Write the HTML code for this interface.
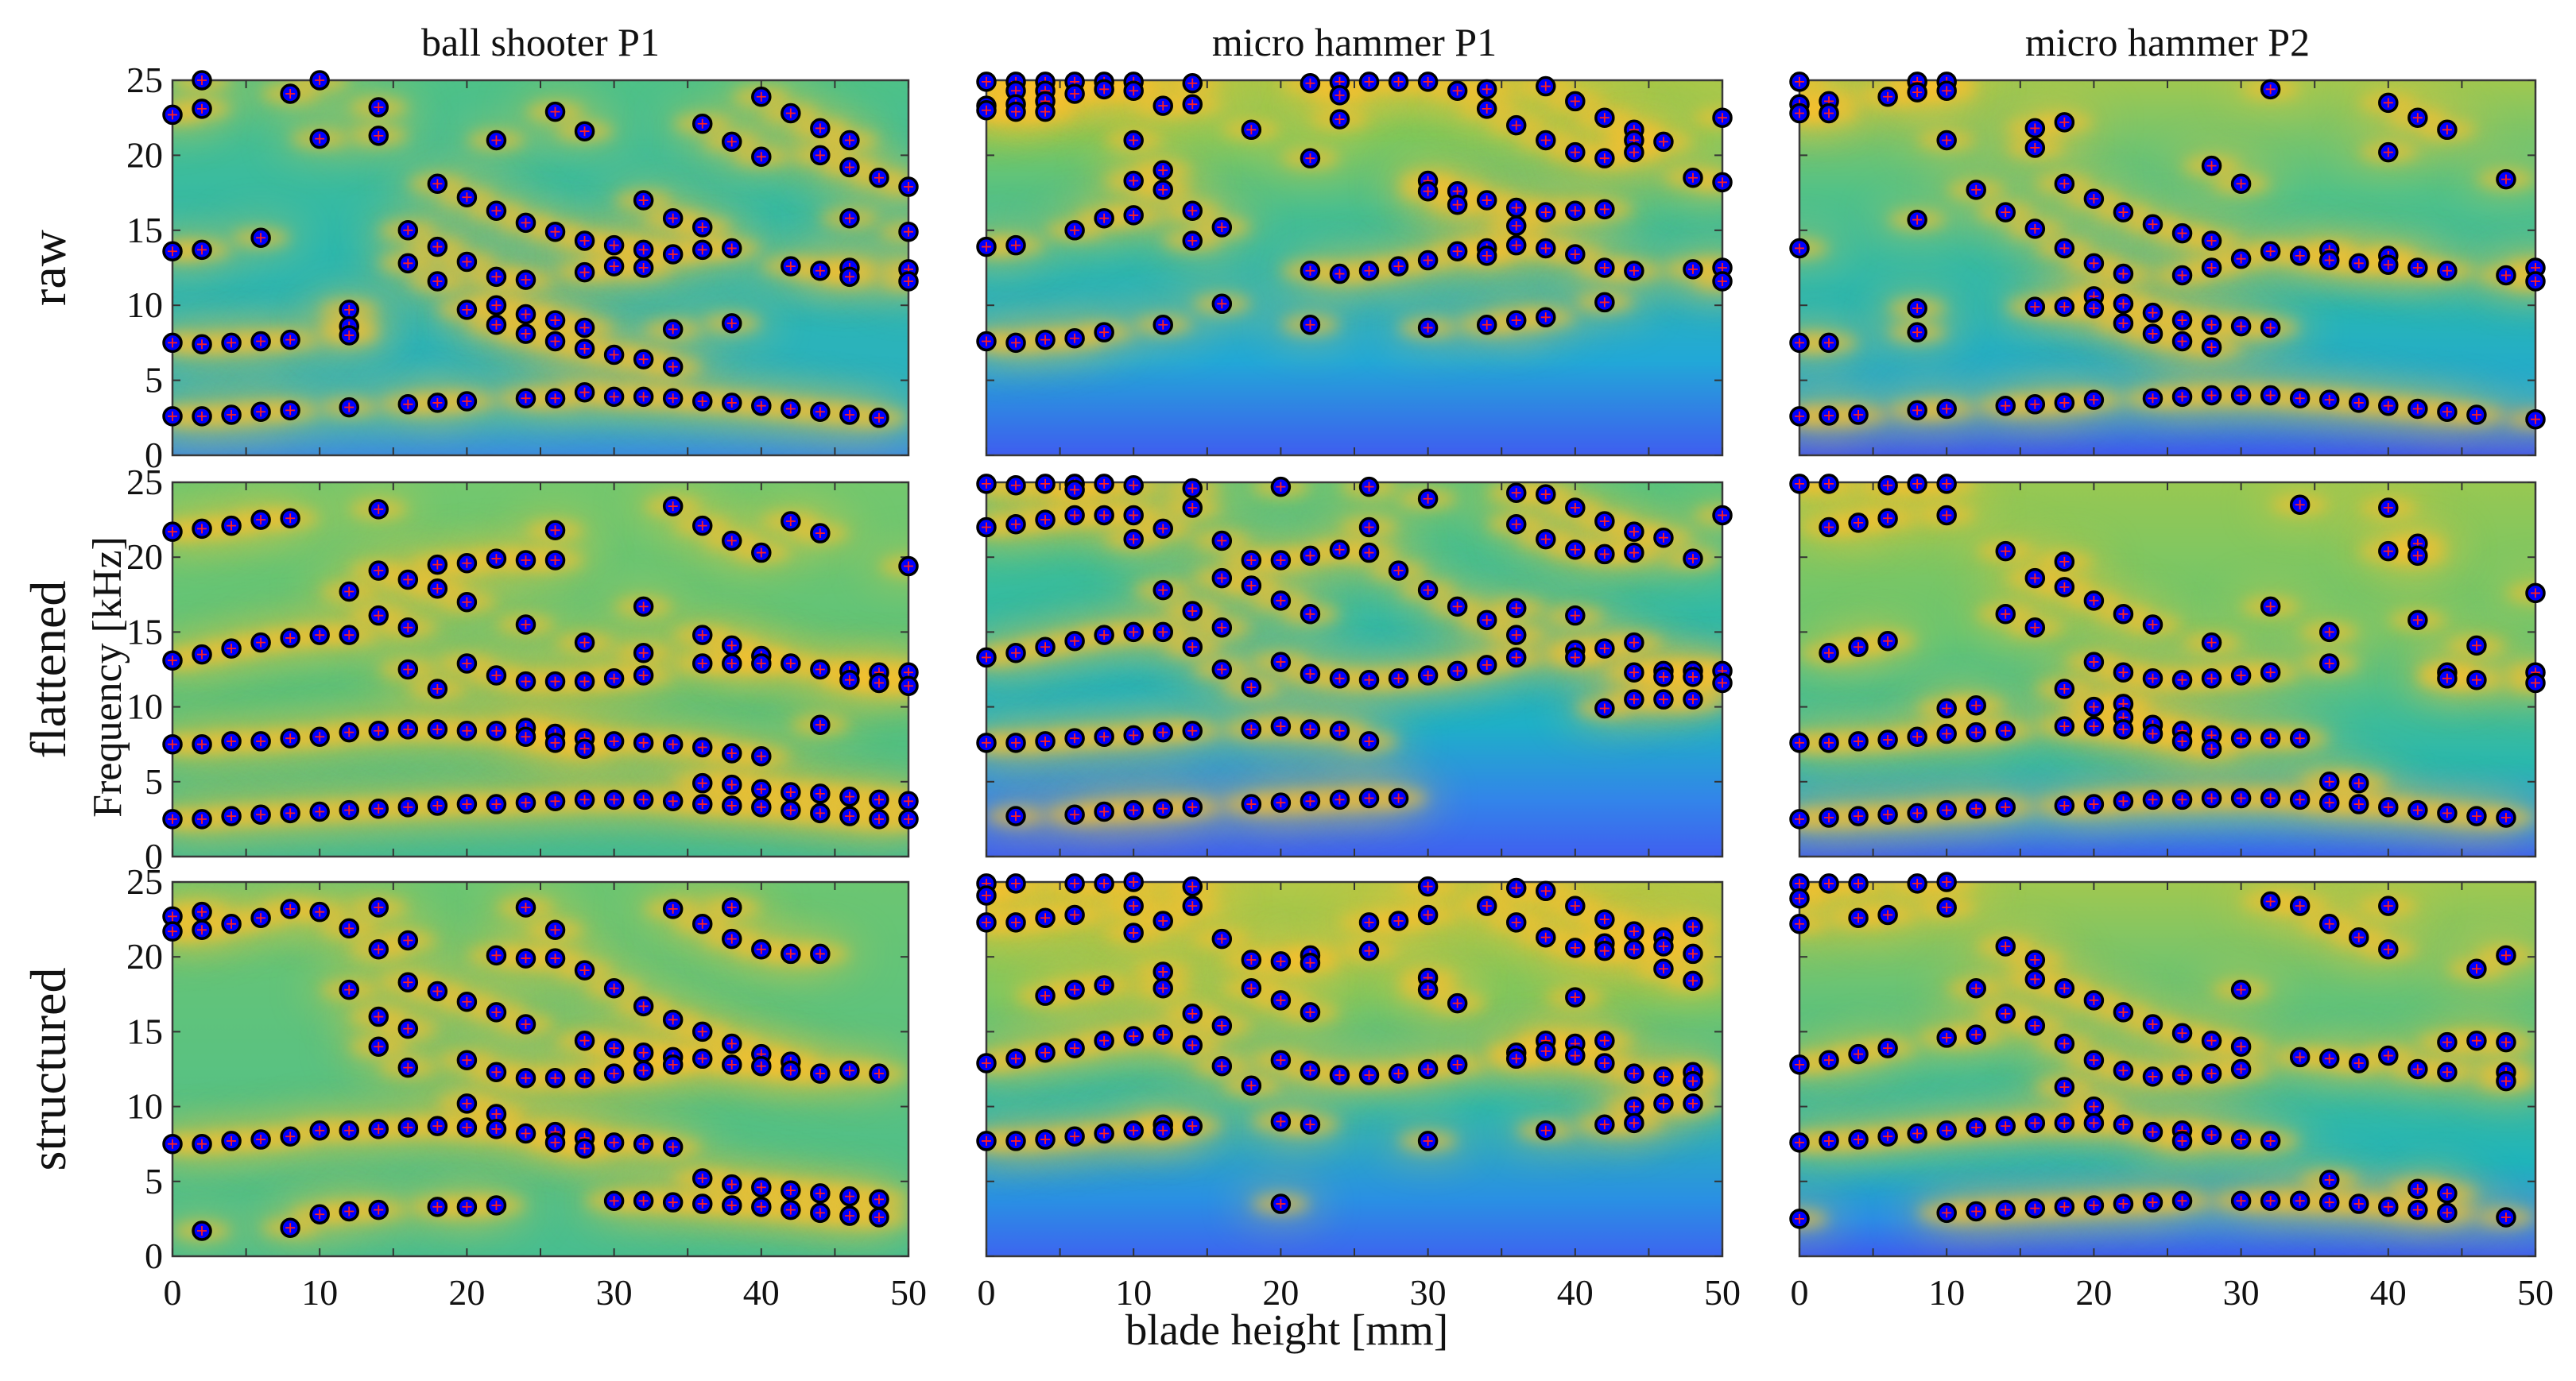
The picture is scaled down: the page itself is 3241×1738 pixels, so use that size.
<!DOCTYPE html>
<html><head><meta charset="utf-8">
<style>
html,body{margin:0;padding:0;background:#fff;}
#wrap{position:relative;width:3241px;height:1738px;overflow:hidden;background:#fff;}
canvas{position:absolute;}
svg{position:absolute;left:0;top:0;}
text{font-family:"Liberation Serif",serif;fill:#111;}
</style></head>
<body>
<div id="wrap">
<svg id="svg" width="3241" height="1738"></svg>
</div>
<script>
const heights=[0,2,4,6,8,10,12,14,16,18,20,22,24,26,28,30,32,34,36,38,40,42,44,46,48,50];
const panelTitles=['ball shooter P1','micro hammer P1','micro hammer P2'];
const rowLabels=['raw','flattened','structured'];
const yTickLabels=[0,5,10,15,20,25];
const xTickLabels=[0,10,20,30,40,50];

const rawBS=[[22.7,13.6,7.5,2.6],[25.0,23.1,13.7,7.4,2.6],[7.5,2.7],[14.5,7.6,2.9],[24.1,7.7,3.0],[25.0,21.1],[9.7,8.6,8.0,3.2],[23.2,21.3],[15.0,12.8,3.4],[18.1,13.9,11.6,3.5],[17.2,12.9,9.7,3.6],[21.0,16.3,11.9,10.0,8.7],[15.5,11.7,9.4,8.1,3.8],[22.9,14.9,9.0,7.6,3.8],[21.6,14.3,12.2,8.5,7.1,4.2],[14.0,12.6,6.7,3.9],[17.0,13.7,12.5,6.4,3.9],[15.8,13.4,8.4,5.9,3.8],[22.1,15.2,13.7,3.6],[20.9,13.8,8.8,3.5],[23.9,19.9,3.3],[22.8,12.6,3.1],[21.8,20.0,12.3,2.9],[21.0,19.2,15.8,12.5,11.9,2.7],[18.5,2.5],[17.9,14.9,12.4,11.6]];
const rawMH1=[[24.9,23.3,23.0,13.9,7.6],[24.9,24.3,23.4,22.9,14.0,7.5],[24.9,24.3,23.6,22.9,7.7],[24.9,24.1,15.0,7.8],[24.9,24.4,15.8,8.2],[24.9,24.3,21.0,18.3,16.0],[23.3,19.0,17.7,8.7],[24.8,23.4,16.3,14.3],[15.2,10.1],[21.7],[],[24.8,19.8,12.3,8.7],[24.9,24.0,22.4,12.1],[24.9,12.3],[24.9,12.6],[24.9,18.3,17.6,13.0,8.5],[24.3,17.6,16.7,13.6],[24.4,23.1,17.0,13.8,13.3,8.7],[22.0,16.5,15.3,14.0,9.0],[24.6,21.0,16.2,13.8,9.2],[23.6,20.2,16.3,13.4],[22.5,19.8,16.4,12.5,10.2],[21.7,21.0,20.2,12.3],[20.9],[18.5,12.4],[22.5,18.2,12.5,11.6]];
const rawMH2=[[24.9,23.4,22.8,13.8,7.5,2.6],[23.6,22.8,7.5,2.65],[2.7],[23.9],[24.9,24.2,15.7,9.8,8.2,3.0],[24.9,24.3,21.0,3.1],[17.7],[16.2,3.3],[21.8,20.5,15.1,9.9,3.4],[22.2,18.1,13.8,9.9,3.5],[17.1,12.8,10.6,9.8,3.7],[16.2,12.1,10.1,8.8],[15.4,9.5,8.1,3.8],[14.8,12.0,9.0,7.6,3.9],[19.3,14.3,12.5,8.7,7.2,4.0],[18.1,13.1,8.6,4.0],[24.4,13.6,8.5,4.0],[13.3,3.8],[13.7,13.0,3.7],[12.8,3.5],[23.5,20.2,13.3,12.7,3.3],[22.5,12.5,3.1],[21.7,12.3,2.9],[2.7],[18.4,12.0],[12.5,11.6,2.4]];
const flatBS=[[21.7,13.1,7.5,2.5],[21.9,13.5,7.5,2.5],[22.1,13.9,7.7,2.7],[22.5,14.3,7.7,2.8],[22.6,14.6,7.9,2.9],[14.8,8.0,3.0],[17.7,14.8,8.3,3.1],[23.2,19.1,16.1,8.4,3.2],[18.5,15.3,12.5,8.5,3.3],[19.5,17.9,11.2,8.5,3.4],[19.6,17.0,12.9,8.4,3.5],[19.9,12.1,8.4,3.5],[19.8,15.5,11.7,8.6,8.0,3.6],[21.8,19.8,11.7,8.2,7.6,3.7],[14.3,11.7,7.9,7.2,3.8],[11.9,7.7,3.8],[16.7,13.6,12.1,7.6,3.8],[23.4,7.5,3.7],[22.1,14.8,12.9,7.3,4.9,3.5],[21.1,14.1,12.9,6.9,4.8,3.4],[20.3,13.4,12.9,6.7,4.5,3.3],[22.4,12.9,4.3,3.1],[21.6,12.5,8.8,4.2,2.9],[12.4,11.8,4.0,2.7],[12.3,11.6,3.8,2.5],[19.4,12.3,11.4,3.7,2.5]];
const flatMH1=[[24.9,22.0,13.3,7.6],[24.8,22.2,13.6,7.6,2.7],[24.9,22.5,14.0,7.7],[24.9,24.5,22.8,14.4,7.9,2.8],[24.9,22.8,14.8,8.0,3.0],[24.8,22.8,21.2,15.0,8.1,3.1],[21.9,17.8,15.0,8.3,3.2],[24.6,23.3,16.4,14.0,8.4,3.3],[21.1,18.6,15.3,12.5],[19.8,18.1,11.3,8.5,3.5],[24.7,19.8,17.1,13.0,8.7,3.6],[20.1,16.2,12.2,8.5,3.7],[20.5,11.9,8.4,3.8],[24.7,22.0,20.3,11.8,7.7,3.9],[19.1,11.9,3.9],[23.9,17.8,12.1],[16.7,12.4],[15.8,12.8],[24.3,22.2,16.6,14.8,13.3],[24.2,21.2],[23.3,20.5,16.1,13.8,13.3],[22.4,20.2,13.9,9.9],[21.7,20.3,14.3,12.3,10.5],[21.3,12.4,12.0,10.5],[19.9,12.4,12.0,10.5],[22.8,12.4,11.6]];
const flatMH2=[[24.9,7.6,2.5],[24.9,22.0,13.6,7.6,2.6],[22.3,14.0,7.7,2.7],[24.8,22.6,14.4,7.8,2.8],[24.9,8.0,2.9],[24.9,22.8,9.9,8.2,3.1],[10.1,8.3,3.2],[20.4,16.2,8.4,3.3],[18.6,15.3],[19.7,18.0,11.2,8.7,3.4],[17.1,13.0,10.0,8.7,3.5],[16.2,12.3,10.2,9.3,8.5,3.7],[15.5,11.9,8.8,8.2,3.8],[11.8,8.4,7.7,3.8],[14.3,11.9,8.1,7.2,3.9],[12.1,7.9,3.9],[16.7,12.3,7.9,3.9],[23.5,7.9,3.8],[15.0,12.9,5.0,3.6],[4.9,3.5],[23.3,20.4,3.3],[20.9,20.1,15.8,3.1],[12.3,11.9,2.9],[14.1,11.8,2.7],[2.6],[17.6,12.3,11.6]];
const strBS=[[22.7,21.7,7.5],[23.0,21.8,7.5,1.7],[22.2,7.7],[22.6,7.8],[23.2,8.0,1.9],[23.0,8.4,2.8],[21.9,17.8,8.4,3.0],[23.3,20.5,16.0,14.0,8.5,3.1],[21.1,18.3,15.2,12.6,8.6],[17.7,8.7,3.3],[17.0,13.1,10.2,8.6,3.3],[20.1,16.3,12.3,9.5,8.5,3.4],[23.3,19.9,15.5,11.9,8.2],[21.8,19.9,11.9,8.3,7.6],[19.1,14.4,11.9,7.9,7.2],[17.9,13.9,12.2,7.6,3.7],[16.7,13.6,12.4,7.5,3.7],[23.2,15.8,13.3,12.8,7.3,3.6],[22.2,15.0,13.2,5.2,3.5],[23.3,21.2,14.2,12.8,4.8,3.4],[20.5,13.5,12.7,4.6,3.3],[20.2,13.0,12.4,4.4,3.1],[20.2,12.2,4.2,2.9],[12.4,4.0,2.7],[12.2,3.8,2.6],[]];
const strMH1=[[24.9,24.1,22.3,12.9,7.7],[24.9,22.3,13.2,7.7],[22.6,17.4,13.6,7.8],[24.9,22.8,17.8,13.9,8.0],[24.9,18.1,14.4,8.2],[25.0,23.4,21.6,14.7,8.4],[22.4,19.0,17.9,14.8,8.8,8.4],[24.7,23.4,16.2,14.1,8.7],[21.2,15.4,12.7],[19.8,17.9,11.4],[19.7,17.1,13.1,9.0,3.5],[20.1,19.6,16.3,12.4,8.8],[12.1],[22.3,20.4,12.1],[22.4,12.2],[24.7,22.8,18.6,17.8,12.5,7.7],[16.9,12.8],[23.4],[24.6,22.3,13.6,13.2],[24.4,21.3,14.4,13.7,8.4],[23.4,20.6,17.3,14.2,13.4],[22.5,20.9,20.4,14.4,12.9,8.8],[21.7,20.5,12.2,10.0,8.9],[21.3,20.7,19.2,12.0,10.2],[22.0,20.2,18.4,12.3,11.7,10.2],[]];
const strMH2=[[24.9,23.9,22.2,12.8,7.6,2.5],[24.9,13.1,7.7],[24.9,22.6,13.5,7.8],[22.8,13.9,8.0],[24.9,8.2],[25.0,23.3,14.6,8.4,2.9],[17.9,14.8,8.6,3.0],[20.7,16.2,8.7,3.1],[19.8,18.5,15.4,8.9,3.2],[17.9,14.2,11.3,8.9,3.3],[17.1,13.1,10.0,8.9,3.4],[16.3,12.4,8.8,3.5],[15.5,12.0,8.3,3.6],[14.9,12.1,8.4,7.7,3.7],[14.4,12.2,8.1],[17.8,14.0,12.5,7.8,3.7],[23.7,7.7,3.7],[23.4,13.3,3.7],[22.2,13.2,5.1,3.6],[21.3,12.9,3.5],[23.4,20.5,13.4,3.3],[12.5,4.5,3.1],[14.3,12.3,4.2,2.9],[19.2,14.4],[20.1,14.3,12.3,11.7,2.6],[]];

const panelData=[[rawBS,rawMH1,rawMH2],[flatBS,flatMH1,flatMH2],[strBS,strMH1,strMH2]];

const cols=[[217,1143],[1241,2167],[2264,3190]];
const rows=[[101,573],[607,1078],[1110,1581]];
const bgStops=[
 [[[0,'#4fc288'],[0.45,'#2db8ae'],[0.9,'#2ab0c4'],[1,'#3d8ee0']],
  [[0,'#a8c84a'],[0.15,'#7cc960'],[0.45,'#30baa8'],[0.75,'#22a8d8'],[1,'#3f5ef0']],
  [[0,'#a0c850'],[0.3,'#52c288'],[0.6,'#28b6b4'],[0.85,'#22a8d5'],[1,'#4058f0']]],
 [[[0,'#74c86e'],[0.6,'#58c27e'],[1,'#44bb94']],
  [[0,'#58c47e'],[0.3,'#36bca0'],[0.65,'#1fb0c8'],[0.85,'#3385ea'],[1,'#4060f0']],
  [[0,'#98c852'],[0.4,'#68c672'],[0.75,'#2ab8ae'],[0.9,'#2a9ae0'],[1,'#3c62f0']]],
 [[[0,'#6cc672'],[1,'#48be90']],
  [[0,'#b4c846'],[0.3,'#7cc862'],[0.6,'#2ab8b0'],[0.85,'#2a90e4'],[1,'#3d66f0']],
  [[0,'#a0c850'],[0.4,'#54c284'],[0.75,'#1fb4bc'],[0.9,'#2b8ee6'],[1,'#3d5ef0']]]
];

function xScale(c,mm){return cols[c][0]+mm/50*(cols[c][1]-cols[c][0]);}
function yScale(r,f){return rows[r][1]-f/25*(rows[r][1]-rows[r][0]);}

const NS='http://www.w3.org/2000/svg';
const svg=document.getElementById('svg');
const wrap=document.getElementById('wrap');
function mk(tag,attrs,parent){const e=document.createElementNS(NS,tag);for(const k in attrs)e.setAttribute(k,attrs[k]);(parent||svg).appendChild(e);return e;}

for(let r=0;r<3;r++){for(let c=0;c<3;c++){
  const x0=cols[c][0],x1=cols[c][1],y0=rows[r][0],y1=rows[r][1];
  const W=x1-x0,H=y1-y0;
  const cv=document.createElement('canvas');
  cv.width=W;cv.height=H;cv.style.left=x0+'px';cv.style.top=y0+'px';
  
  
  wrap.insertBefore(cv,svg);
  const ctx=cv.getContext('2d');
  const g=ctx.createLinearGradient(0,0,0,H);
  bgStops[r][c].forEach(s=>g.addColorStop(s[0],s[1]));
  ctx.fillStyle=g;ctx.fillRect(0,0,W,H);
  const data=panelData[r][c];
  ctx.filter='blur(24px)';
  ctx.fillStyle='rgba(240,200,60,0.32)';
  data.forEach((fs,i)=>fs.forEach(f=>{ctx.beginPath();ctx.ellipse(xScale(c,heights[i])-x0,yScale(r,f)-y0,55,26,0,0,Math.PI*2);ctx.fill();}));
  ctx.filter='blur(9px)';
  ctx.fillStyle='rgba(250,192,45,0.6)';
  data.forEach((fs,i)=>fs.forEach(f=>{ctx.beginPath();ctx.ellipse(xScale(c,heights[i])-x0,yScale(r,f)-y0,36,12,0,0,Math.PI*2);ctx.fill();}));
  ctx.filter='none';

  const grp=mk('g',{});
  
  
  const box=mk('rect',{x:x0,y:y0,width:W,height:H,fill:'none',stroke:'#3a3a3a','stroke-width':2.5},grp);
  
  
  for(let mm=0;mm<=50;mm+=5){const X=xScale(c,mm);
    const t1=mk('line',{x1:X,x2:X,y1:y1,y2:y1-10,stroke:'#333','stroke-width':2},grp);
    
    
    const t2=mk('line',{x1:X,x2:X,y1:y0,y2:y0+10,stroke:'#333','stroke-width':2},grp);
    
    }
  yTickLabels.forEach(v=>{const Y=yScale(r,v);
    const t1=mk('line',{x1:x0,x2:x0+10,y1:Y,y2:Y,stroke:'#333','stroke-width':2},grp);
    
    
    const t2=mk('line',{x1:x1,x2:x1-10,y1:Y,y2:Y,stroke:'#333','stroke-width':2},grp);
    
    
    if(c===0){const tl=mk('text',{x:x0-12,y:Y+15,'text-anchor':'end','font-size':46},grp);tl.textContent=v;
      
      }
  });
  if(r===2){xTickLabels.forEach(v=>{const tl=mk('text',{x:xScale(c,v),y:1642,'text-anchor':'middle','font-size':46},grp);tl.textContent=v;
    
    });}
  data.forEach((fs,i)=>fs.forEach(f=>{
    const X=xScale(c,heights[i]),Y=yScale(r,f);
    const d=mk('circle',{cx:X,cy:Y,r:11,fill:'#0000ff',stroke:'#000','stroke-width':3.5},grp);
    
    
    const p=mk('path',{d:`M${X-6},${Y}H${X+6}M${X},${Y-6}V${Y+6}`,stroke:'#ff2020','stroke-width':1.8},grp);
    
    
  }));
  if(r===0){const t=mk('text',{x:(x0+x1)/2,y:70,'text-anchor':'middle','font-size':50});t.textContent=panelTitles[c];
    
    }
}}
rowLabels.forEach((lab,r)=>{const cy=(rows[r][0]+rows[r][1])/2;
  const t=mk('text',{x:0,y:0,'text-anchor':'middle','font-size':64,transform:`translate(82,${cy}) rotate(-90)`});t.textContent=lab;
  
  });
const yl=mk('text',{x:0,y:0,'text-anchor':'middle','font-size':52,transform:'translate(152,852) rotate(-90)'});yl.textContent='Frequency [kHz]';


const xl=mk('text',{x:1619,y:1692,'text-anchor':'middle','font-size':55});xl.textContent='blade height [mm]';


</script>
</body></html>
